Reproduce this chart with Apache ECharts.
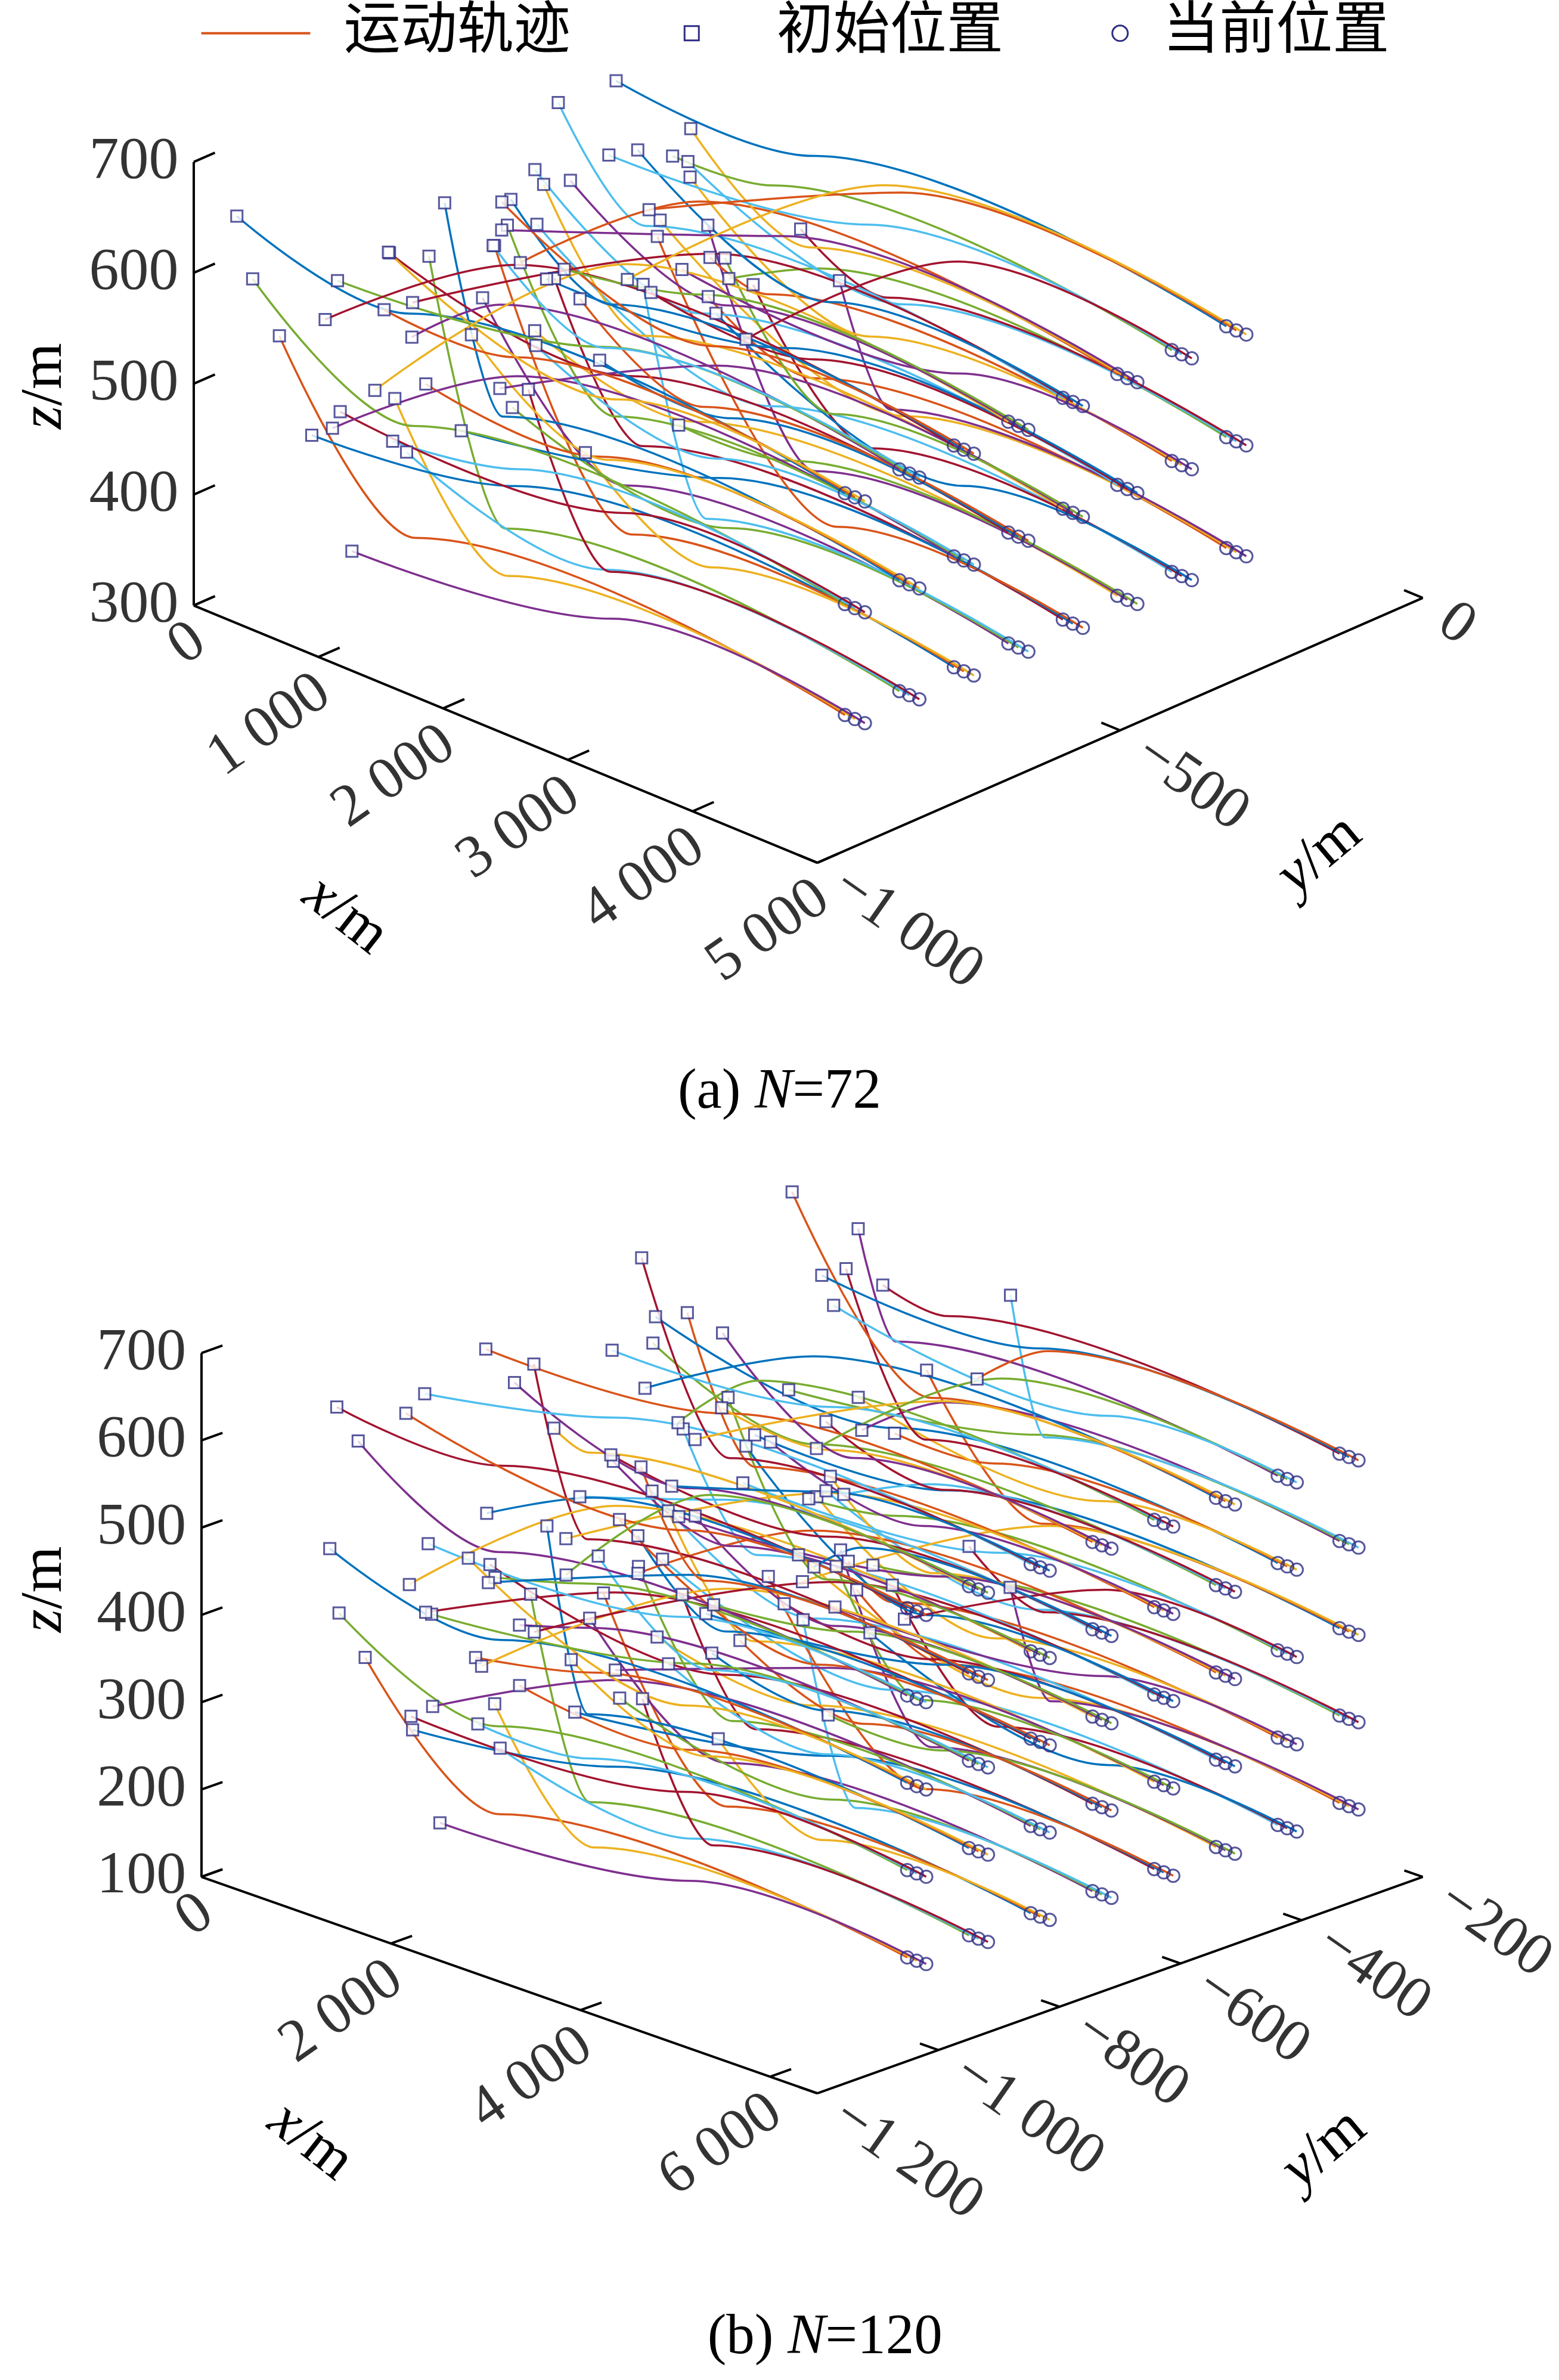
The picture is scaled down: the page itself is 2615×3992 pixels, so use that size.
<!DOCTYPE html>
<html><head><meta charset="utf-8">
<script src="https://cdn.jsdelivr.net/npm/echarts@6/dist/echarts.min.js"></script>
<style>html,body{margin:0;background:#fff}#main{width:2615px;height:3992px}</style>
</head><body><div id="main"></div>
<script>
// panel (a) N=72 : end formation levels and start positions
var endYA = [-835,-745,-655,-565,-475,-385,-295,-205];
var endZA = [367,467,567];
var endXA = [4420,4500,4580];
var startXA = [80,520,1050,260,760,1300,0,640,980,350,880,1200,150,470,1120,40,700,1000,300,820,1250,120,560,930,
 60,600,1150,240,720,1280,20,500,1020,380,900,1180,160,440,1080,90,680,960,280,800,1220,140,540,910,
 30,580,1100,220,740,1260,10,480,990,360,860,1150,180,420,1060,70,660,940,320,780,1200,110,520,880];
var startDYA = [-40,60,-120,80,-60,30,-150,20,100,-30,-90,60,40,-180,10,-60,90,-20,-200,50,-100,30,-140,80,
 -80,40,-160,110,-20,-60,-120,70,10,-190,50,-40,20,-110,130,-70,0,-230,90,-50,-150,60,-90,20,
 -100,30,-70,60,-170,-20,-130,80,-40,-210,10,-60,40,-250,-10,-90,70,-300,20,-180,-40,-120,-150,-260];
var startDZA = [150,90,20,180,60,120,40,200,10,130,70,160,100,30,190,50,140,0,170,80,110,20,150,60,
 110,-40,60,120,10,90,-60,100,30,110,-20,70,90,-50,40,100,0,80,-30,100,60,-70,90,20,
 70,-20,80,-90,40,60,-60,20,70,-110,50,0,60,-40,70,-80,30,40,-20,50,-130,50,-40,-60];
var turnA = [900,1200,1500,1000,1300,800];
var ticksXA = [0,1000,2000,3000,4000,5000], ticksYA = [-1000,-500,0], ticksZA = [300,400,500,600,700];

// panel (b) N=120
var endYB = [-895,-793,-691,-589,-487,-385,-283,-181];
var endZB = [142,242,342,442,542];
var endXB = [5500,5600,5700];
var startXB = [100,700,1400,300,1000,1800,0,800,1500,450,1150,2000,200,600,1300,50,900,1600,350,1050,1900,150,750,1450,
 80,650,1350,280,950,1750,20,850,1550,420,1100,2100,180,580,1250,60,880,1650,330,1020,1850,130,720,1400,
 110,690,1380,310,980,1780,10,780,1480,460,1180,1950,210,620,1320,40,920,1620,360,1070,1880,160,760,1430,
 90,640,1340,270,940,1720,30,840,1540,410,1120,2050,190,570,1260,70,870,1640,340,1010,1840,140,710,1390,
 120,680,1360,290,960,1760,0,820,1520,440,1140,1980,220,610,1290,50,900,1600,370,1080,1900,170,740,1420];
var startDYB = [-50,70,-130,90,-70,40,-160,30,110,-40,-100,70,50,-190,20,-70,100,-30,-210,60,-110,40,-150,90,
 -90,50,-170,120,-30,-70,-130,80,20,-200,60,-50,30,-120,140,-80,10,-240,100,-60,-160,70,-100,30,
 -110,40,-80,70,-180,-30,-140,90,-50,-220,20,-70,50,-260,-20,-100,80,-280,30,-190,-50,-130,60,-250,
 -60,80,-140,100,-80,50,-170,40,120,-50,-110,80,60,-200,30,-80,110,-40,-220,70,-120,50,-160,100,
 -100,60,-180,130,-40,-80,-140,90,30,-210,70,-60,40,-130,150,-90,20,-250,110,-70,-170,80,-110,40];
var startDZB = [150,90,30,170,60,120,40,180,20,130,80,160,100,40,170,50,140,10,160,90,110,30,140,70,
 110,-30,60,140,20,90,-40,100,30,130,-10,70,100,-30,50,120,0,80,-20,120,50,-50,100,30,
 90,-50,120,-60,40,100,-30,30,110,-80,60,10,90,-50,130,-70,30,100,-30,70,-90,50,100,-40,
 100,-70,50,130,-50,80,-90,30,110,-30,60,-80,120,-60,20,90,-100,50,140,-40,80,-90,30,100,
 50,-90,110,-50,70,-110,20,150,-70,80,-30,120,-100,40,90,-60,170,-20,60,-120,100,-30,50,-80];
var turnB = [1100,1500,1800,1200,1600,1000];
var ticksXB = [0,2000,4000,6000], ticksYB = [-1200,-1000,-800,-600,-400,-200], ticksZB = [100,200,300,400,500,600,700];

var colors = ['#D95319','#EDB120','#7E2F8E','#77AC30','#4DBEEE','#A2142F','#0072BD'];
var S = 2615/1030;
var W = 1030, H = 1030*3992/2615;
var FONT = 'Liberation Serif, Noto Sans CJK SC';
var mark = '#2E2E85';

var PA = {o:[128,400], ex:[412/5000,170/5000], ey:[0.4,-0.175], ez:0.7325, x1:5000, y0:-1000, y1:0, z0:300, z1:700};
var PB = {o:[133,1240], ex:[407/6500,143/6500], ey:[0.4,-0.143], ez:0.5767, x1:6500, y0:-1200, y1:-200, z0:100, z1:700};

function proj(p,x,y,z){
	return [p.o[0]+x*p.ex[0]+(y-p.y0)*p.ey[0], p.o[1]+x*p.ex[1]+(y-p.y0)*p.ey[1]-(z-p.z0)*p.ez];
}
function fmt(n){
	var a = Math.abs(n), s = a >= 1000 ? Math.floor(a/1000)+' '+String(a%1000).padStart(3,'0') : String(a);
	return (n < 0 ? '\u2212' : '') + s;
}

var series = [];
function panel(p, endY, endZ, endX, sx, dy, dz, turn, tx, ty, tz){
	var starts = [], ends = [];
	for (var i = 0; i < sx.length; i++) {
		var g = Math.floor(i/3), k = g % endY.length, r = Math.floor(g/endY.length);
		var ey = endY[k], ez = endZ[r], ex = endX[i%3];
		var s = proj(p, sx[i], ey+dy[i], ez+dz[i]);
		series.push({type:'line', smooth:0.35, smoothMonotone:'x', showSymbol:false, silent:true, z:2,
			lineStyle:{color:colors[i%7], width:3.5},
			data:[s, proj(p, sx[i]+turn[i%turn.length], ey, ez), proj(p, ex, ey, ez)]});
		starts.push(s);
		ends.push(proj(p, ex, ey, ez));
	}
	series.push({type:'scatter', symbol:'rect', symbolSize:19, z:3, data:starts,
		itemStyle:{color:'#fff', borderColor:mark, borderWidth:3}});
	series.push({type:'scatter', symbol:'circle', symbolSize:21, z:3, data:ends,
		itemStyle:{color:'rgba(255,255,255,0)', borderColor:mark, borderWidth:3}});
	// axes
	var axes = [
		{coords:[proj(p,0,p.y0,p.z0), proj(p,0,p.y0,p.z1)]},
		{coords:[proj(p,0,p.y0,p.z0), proj(p,p.x1,p.y0,p.z0)]},
		{coords:[proj(p,p.x1,p.y0,p.z0), proj(p,p.x1,p.y1,p.z0)]}
	];
	var dyT = (p.y1-p.y0)*0.035, dxT = p.x1*0.03;
	var lab = [];
	tz.forEach(function(v){
		axes.push({coords:[proj(p,0,p.y0,v), proj(p,0,p.y0+dyT,v)]});
		var q = proj(p,0,p.y0,v);
		lab.push({value:[q[0]-10,q[1]], t:fmt(v), align:'right', rot:0});
	});
	tx.forEach(function(v){
		axes.push({coords:[proj(p,v,p.y0,p.z0), proj(p,v,p.y0+dyT,p.z0)]});
		var q = proj(p,v,p.y0,p.z0);
		lab.push({value:[q[0]+4,q[1]+20], t:fmt(v), align:'right', rot:35});
	});
	ty.forEach(function(v){
		axes.push({coords:[proj(p,p.x1,v,p.z0), proj(p,p.x1-dxT,v,p.z0)]});
		var q = proj(p,p.x1,v,p.z0);
		lab.push({value:[q[0]+14,q[1]+12], t:fmt(v), align:'left', rot:-35});
	});
	series.push({type:'lines', coordinateSystem:'cartesian2d', silent:true, z:4,
		lineStyle:{color:'#000', width:4, opacity:1}, data:axes});
	series.push({type:'scatter', symbolSize:0, silent:true, z:5,
		data:lab.map(function(d){ return {value:d.value, label:{show:true, position:'inside',
			formatter:d.t, align:d.align, verticalAlign:'middle', rotate:d.rot,
			fontFamily:FONT, fontSize:100, color:'#000'}}; })});
}
panel(PA, endYA, endZA, endXA, startXA, startDYA, startDZA, turnA, ticksXA, ticksYA, ticksZA);
panel(PB, endYB, endZB, endXB, startXB, startDYB, startDZB, turnB, ticksXB, ticksYB, ticksZB);

function txt(x,y,rich,rot,size){
	return {type:'text', x:x*S, y:y*S, rotation:(rot||0)*Math.PI/180,
		style:{text:rich, fontFamily:FONT, fontSize:size||100, fill:'#000', align:'center', verticalAlign:'middle',
			rich:{i:{fontStyle:'italic', fontFamily:FONT, fontSize:size||100}}}};
}
var graphic = [
	{type:'line', shape:{x1:133*S, y1:22*S, x2:205*S, y2:22*S}, style:{stroke:'#D95319', lineWidth:4}},
	txt(302,22,'运动轨迹',0,95),
	{type:'rect', shape:{x:457*S-12, y:22*S-12, width:24, height:24}, style:{fill:'#fff', stroke:mark, lineWidth:3}},
	txt(588,22,'初始位置',0,95),
	{type:'circle', shape:{cx:740*S, cy:22*S, r:13}, style:{fill:'#fff', stroke:mark, lineWidth:3}},
	txt(843,22,'当前位置',0,95),
	txt(30,255,'{i|z}/m',90), txt(228,605,'{i|x}/m',-38), txt(872,565,'{i|y}/m',40),
	txt(515,722,'(a) {i|N}=72',0,95),
	txt(30,1050,'{i|z}/m',90), txt(205,1415,'{i|x}/m',-38), txt(875,1420,'{i|y}/m',40),
	txt(545,1545,'(b) {i|N}=120',0,95)
];

var myChart = echarts.init(document.getElementById('main'));
myChart.setOption({
	animation:false,
	backgroundColor:'#fff',
	grid:{left:0, right:0, top:0, bottom:0},
	xAxis:{type:'value', min:0, max:W, show:false},
	yAxis:{type:'value', min:0, max:H, inverse:true, show:false},
	graphic:graphic,
	series:series
});
</script></body></html>
